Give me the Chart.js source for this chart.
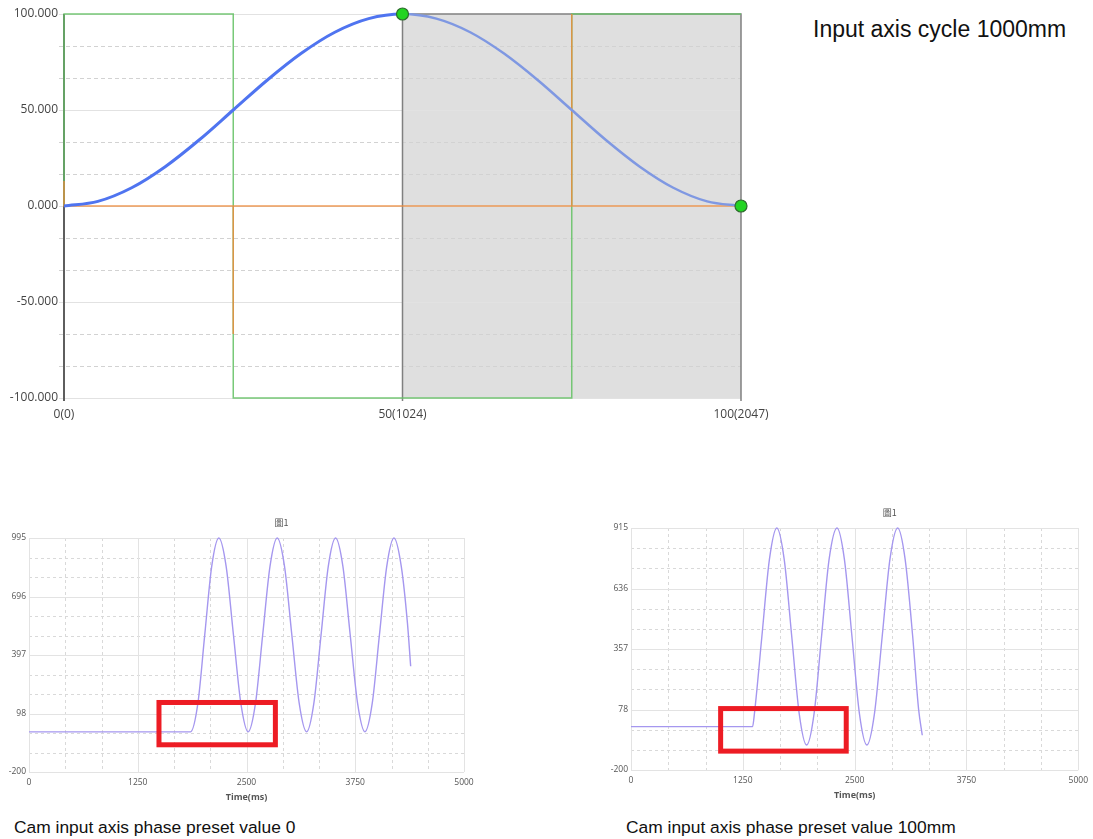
<!DOCTYPE html>
<html>
<head>
<meta charset="utf-8">
<script src="https://cdn.jsdelivr.net/npm/chart.js@4/dist/chart.umd.min.js"></script>
<style>
  html, body { margin: 0; padding: 0; background: #fff; width: 1093px; height: 839px; overflow: hidden; }
  canvas { position: absolute; display: block; }
  .txt { position: absolute; font-family: "Liberation Sans", Arial, sans-serif; color: #111; white-space: nowrap; line-height: 1; }
</style>
</head>
<body>
<canvas id="cam" width="800" height="430" style="left:0;top:0"></canvas>
<div class="txt" style="left:813px;top:18px;font-size:23px">Input axis cycle 1000mm</div>
<canvas id="trace0" width="480" height="310" style="left:0;top:500px"></canvas>
<canvas id="trace100" width="493" height="320" style="left:600px;top:490px"></canvas>
<div class="txt" style="left:14px;top:819px;font-size:17.4px">Cam input axis phase preset value 0</div>
<div class="txt" style="left:626px;top:819px;font-size:17.4px">Cam input axis phase preset value 100mm</div>

<script>
// ---- Cam profile over one input-axis cycle (phase in %) ----
const camPhase        = [0, 5, 10, 15, 20, 25, 30, 35, 40, 45, 50, 55, 60, 65, 70, 75, 80, 85, 90, 95, 100];
const camDisplacement = [0, 2.4, 9.5, 20.6, 34.5, 50, 65.5, 79.4, 90.5, 97.6, 100, 97.6, 90.5, 79.4, 65.5, 50, 34.5, 20.6, 9.5, 2.4, 0];
const velPhase = [0, 0, 25, 25, 75, 75, 100];
const velValue = [0, 100, 100, -100, -100, 100, 100];
const accPhase = [0, 0, 0, 25, 25, 25, 75, 75, 75, 100];
const accValue = [0, 13, 0, 0, -66.7, 0, 0, 100, 0, 0];
const keyPhase = [50, 100];
const keyValue = [100, 0];
const dwellRange = [50, 100];
const camXTicks  = [0, 50, 100];
const camXLabels = ['0(0)', '50(1024)', '100(2047)'];
const camYTicks  = [-100, -50, 0, 50, 100];
const camYLabels = ['-100.000', '-50.000', '0.000', '50.000', '100.000'];

// ---- Output axis trace, phase preset 0 ----
const time0 = [0, 1857, 1941, 2020, 2100, 2182, 2266, 2350, 2435, 2519, 2603, 2686, 2770, 2853, 2937, 3021, 3106, 3191,
               3274, 3357, 3440, 3524, 3608, 3692, 3777, 3861, 3945, 4028, 4112, 4195, 4279, 4350, 4387];
const pos0  = [5, 5, 150, 500, 850, 995, 850, 500, 150, 5, 150, 500, 850, 995, 850, 500, 150, 5,
               150, 500, 850, 995, 850, 500, 150, 5, 150, 500, 850, 995, 850, 560, 340];
const yTicks0  = [-200, 98.75, 397.5, 696.25, 995];
const yLabels0 = ['-200', '98', '397', '696', '995'];
const box0T = [1494, 2832];
const box0V = [-61, 155];

// ---- Output axis trace, phase preset 100mm ----
const time100 = [0, 1359, 1380, 1463, 1547, 1630, 1713, 1797, 1880, 1963, 2047, 2130, 2214, 2303, 2386, 2470, 2553, 2637,
                 2722, 2808, 2894, 2981, 3065, 3149, 3215, 3256];
const pos100  = [0, 0, 61, 415, 769, 915, 769, 415, 61, -85, 61, 415, 769, 915, 769, 415, 61, -85,
                 61, 415, 769, 915, 769, 415, 80, -40];
const yTicks100  = [-200, 78.75, 357.5, 636.25, 915];
const yLabels100 = ['-200', '78', '357', '636', '915'];
const box100T = [1002, 2406];
const box100V = [-113, 83];

const timeTicks  = [0, 1250, 2500, 3750, 5000];
const timeLabels = ['0', '1250', '2500', '3750', '5000'];

Chart.defaults.font.family = "'Open Sans', 'DejaVu Sans', sans-serif";
Chart.defaults.animation = false;

const pts = (xs, ys) => xs.map((x, i) => ({ x, y: ys[i] }));
const fixedTicks = values => s => { s.ticks = values.map(v => ({ value: v })); };
const tickText = (values, labels) => v => { const i = values.indexOf(v); return i < 0 ? '' : labels[i]; };
const noGrid = { display: false, drawTicks: false, tickLength: 0 };

function drawGrid(chart, xMajor, yMajor, div, st) {
  const { ctx, chartArea: a, scales: { x, y } } = chart;
  const snap = p => Math.round(p) + 0.5;
  const seg = (x1, y1, x2, y2, color, dash) => {
    ctx.strokeStyle = color; ctx.setLineDash(dash);
    ctx.beginPath(); ctx.moveTo(x1, y1); ctx.lineTo(x2, y2); ctx.stroke();
  };
  ctx.save();
  ctx.lineWidth = 1;
  if (yMajor) yMajor.forEach((v, i) => {
    if (i < yMajor.length - 1) for (let k = 1; k < div; k++) {
      const pm = snap(y.getPixelForValue(v + (yMajor[i + 1] - v) * k / div));
      seg(a.left - st.ext, pm, a.right, pm, st.minor, st.dash);
    }
  });
  if (xMajor) xMajor.forEach((v, i) => {
    if (i < xMajor.length - 1) for (let k = 1; k < div; k++) {
      const pm = snap(x.getPixelForValue(v + (xMajor[i + 1] - v) * k / div));
      seg(pm, a.top, pm, a.bottom, st.minor, st.dash);
    }
  });
  if (yMajor) yMajor.forEach(v => {
    const py = snap(y.getPixelForValue(v));
    seg(a.left - st.ext, py, a.right, py, st.major, []);
  });
  if (xMajor) xMajor.forEach(v => {
    const px = snap(x.getPixelForValue(v));
    seg(px, a.top, px, a.bottom, st.major, []);
  });
  ctx.restore();
}

// ---------------- Cam profile chart ----------------
const camBackdrop = {
  id: 'camBackdrop',
  beforeDatasetsDraw(chart) {
    const { ctx, scales: { x, y } } = chart;
    const xl = x.getPixelForValue(dwellRange[0]), xr = x.getPixelForValue(dwellRange[1]);
    const yt = y.getPixelForValue(camYTicks[camYTicks.length - 1]), yb = y.getPixelForValue(camYTicks[0]);
    ctx.save();
    ctx.fillStyle = '#dfdfdf';
    ctx.fillRect(xl, yt, xr - xl, yb - yt);
    ctx.restore();
    drawGrid(chart, null, camYTicks, 3, { major: '#e2e2e2', minor: '#d2d2d2', dash: [4, 3], ext: 5 });
    ctx.save();
    ctx.strokeStyle = '#808080'; ctx.lineWidth = 1.5;
    ctx.beginPath();
    ctx.moveTo(xl, yb + 3); ctx.lineTo(xl, yt); ctx.lineTo(xr, yt); ctx.lineTo(xr, yb + 3);
    ctx.stroke();
    const x0 = x.getPixelForValue(camXTicks[0]);
    ctx.strokeStyle = '#5e5e5e'; ctx.lineWidth = 2;
    ctx.beginPath(); ctx.moveTo(x0, yt); ctx.lineTo(x0, yb + 3); ctx.stroke();
    ctx.restore();
  }
};

new Chart(document.getElementById('cam'), {
  type: 'line',
  data: {
    datasets: [
      { data: pts(keyPhase, keyValue), showLine: false, pointRadius: 6, pointBackgroundColor: '#22d422',
        pointBorderColor: '#2d6b2d', pointBorderWidth: 1.2, clip: 10 },
      { data: pts(camPhase, camDisplacement), borderColor: '#4f74f0', borderWidth: 3, pointRadius: 0,
        cubicInterpolationMode: 'monotone', clip: 5,
        segment: {
          borderColor: c => c.p0.parsed.x >= dwellRange[0] ? '#7f98e2' : '#4f74f0',
          borderWidth: c => c.p0.parsed.x >= dwellRange[0] ? 2.5 : 3
        } },
      { data: pts(accPhase, accValue), borderColor: 'rgba(236,140,62,0.85)', borderWidth: 1.5, pointRadius: 0, clip: 5 },
      { data: pts(velPhase, velValue), borderColor: 'rgba(105,195,105,0.9)', borderWidth: 1.5, pointRadius: 0, clip: 5 }
    ]
  },
  options: {
    responsive: false,
    layout: { padding: { top: 14, right: 59, left: 0, bottom: 0 } },
    plugins: { legend: { display: false }, tooltip: { enabled: false } },
    scales: {
      x: { type: 'linear', min: 0, max: 100,
           afterBuildTicks: fixedTicks(camXTicks), afterFit: s => { s.height = 32; },
           grid: noGrid, border: { display: false },
           ticks: { callback: tickText(camXTicks, camXLabels), padding: 9, color: '#444', font: { size: 12 }, maxRotation: 0, autoSkip: false } },
      y: { min: -100, max: 100,
           afterBuildTicks: fixedTicks(camYTicks), afterFit: s => { s.width = 64; },
           grid: noGrid, border: { display: false },
           ticks: { callback: tickText(camYTicks, camYLabels), padding: 6, color: '#444', font: { size: 12 } } }
    }
  },
  plugins: [camBackdrop]
});

// ---------------- Output axis traces ----------------
function traceChart(id, times, values, yMin, yMax, yTicks, yLabels, boxT, boxV, yAxisW, padTop, padRight, xAxisH) {
  const decor = {
    id: 'traceDecor',
    beforeDatasetsDraw(chart) {
      drawGrid(chart, timeTicks, yTicks, 3, { major: '#e3e3e3', minor: '#d9d9d9', dash: [3, 3], ext: 0 });
    },
    afterDatasetsDraw(chart) {
      const { ctx, chartArea: a, scales: { x, y } } = chart;
      ctx.save();
      ctx.strokeStyle = '#ed1c24'; ctx.lineWidth = 5;
      const xl = x.getPixelForValue(boxT[0]), xr = x.getPixelForValue(boxT[1]);
      const yt = y.getPixelForValue(boxV[1]), yb = y.getPixelForValue(boxV[0]);
      ctx.strokeRect(xl, yt, xr - xl, yb - yt);
      ctx.fillStyle = '#555';
      ctx.textAlign = 'center'; ctx.textBaseline = 'middle';
      ctx.font = "bold 9px 'Open Sans', sans-serif";
      ctx.fillText('Time(ms)', (a.left + a.right) / 2, a.bottom + 25.5);
      ctx.font = "9px 'Noto Sans CJK TC', sans-serif";
      ctx.fillText('圖1', (a.left + a.right) / 2 + 35, a.top - 15.5);
      ctx.restore();
    }
  };
  return new Chart(document.getElementById(id), {
    type: 'line',
    data: { datasets: [{ data: pts(times, values), borderColor: '#a597ef', borderWidth: 1.4, pointRadius: 0,
                         cubicInterpolationMode: 'monotone', clip: 3 }] },
    options: {
      responsive: false,
      layout: { padding: { top: padTop, right: padRight, left: 0, bottom: 0 } },
      plugins: { legend: { display: false }, tooltip: { enabled: false } },
      scales: {
        x: { type: 'linear', min: timeTicks[0], max: timeTicks[timeTicks.length - 1],
             afterBuildTicks: fixedTicks(timeTicks), afterFit: s => { s.height = xAxisH; },
             grid: noGrid, border: { display: false },
             ticks: { callback: tickText(timeTicks, timeLabels), padding: 5, color: '#555', font: { size: 8.5 }, maxRotation: 0, autoSkip: false } },
        y: { min: yMin, max: yMax,
             afterBuildTicks: fixedTicks(yTicks), afterFit: s => { s.width = yAxisW; },
             grid: noGrid, border: { display: false },
             ticks: { callback: tickText(yTicks, yLabels), padding: 3, color: '#555', font: { size: 8.5 } } }
      }
    },
    plugins: [decor]
  });
}

traceChart('trace0', time0, pos0, -200, 995, yTicks0, yLabels0, box0T, box0V, 29, 38, 16, 38);
traceChart('trace100', time100, pos100, -200, 915, yTicks100, yLabels100, box100T, box100V, 31, 38, 12, 40);
</script>
</body>
</html>
